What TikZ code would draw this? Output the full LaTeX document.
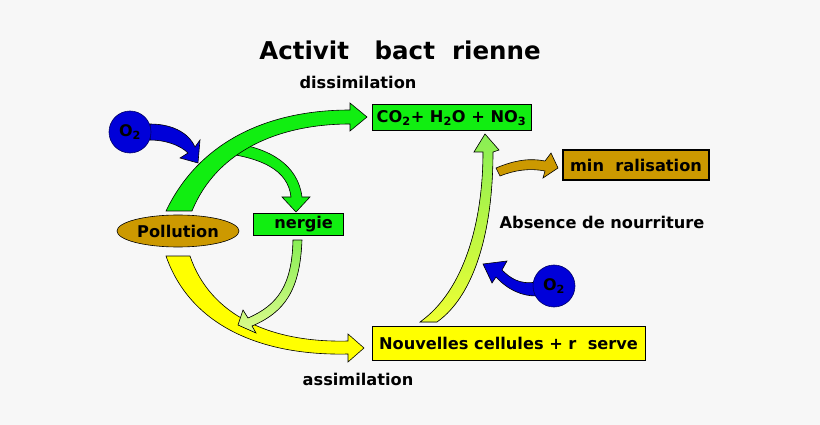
\documentclass[tikz,border=0pt]{standalone}
\usepackage{fontspec}
\setmainfont{DejaVu Sans}
\usetikzlibrary{shapes.geometric}
\begin{document}
\begin{tikzpicture}[x=1pt,y=-1pt,
  lbl/.style={font=\bfseries\fontsize{16.2}{18}\selectfont, inner sep=0pt},
  box/.style={lbl, draw=black, line width=1pt, minimum height=#1, inner xsep=2pt},
  blk/.style={draw=black, line width=0.6pt, fill=#1},
  oxy/.style={circle, draw=black!60!blue, line width=0.6pt, fill=blue!85!black, minimum size=42pt, inner sep=0pt, font=\bfseries\fontsize{16}{17}\selectfont}]
\definecolor{bg}{HTML}{F7F7F7}
\definecolor{vert}{HTML}{11EE11}
\definecolor{gold}{HTML}{CC9900}
\definecolor{jaune}{HTML}{FFFF00}
\definecolor{lvert}{HTML}{88EE55}
\definecolor{ljaune}{HTML}{EEFF33}
\fill[bg] (0,0) rectangle (820,425);
\useasboundingbox (0,0) rectangle (820,425);
% texts
\node[font=\bfseries\fontsize{24.5}{27}\selectfont] (title) at (400,50) {Activit\ \ \ bact\ \ rienne};
\node[lbl] (dis) at (358,82) {dissimilation};
\node[lbl] (ass) at (358,379) {assimilation};
\node[lbl] (abs) at (602,222) {Absence de nourriture};
% boxes
\node[box=26pt, fill=vert, minimum width=159pt] (co2) at (451.5,118) {CO$_\mathbf{2}$+ H$_\mathbf{2}$O + NO$_\mathbf{3}$};
\node[box=22pt, fill=vert, minimum width=90pt, line width=0.6pt] (ene) at (298,224) {\ \ nergie};
\node[box=30pt, fill=gold, minimum width=146pt, line width=1.4pt] (min) at (636,165) {min\ \ ralisation};
\node[box=34pt, fill=jaune, minimum width=273pt] (nou) at (508.5,343) {Nouvelles cellules + r\ \ serve};
\node[lbl, ellipse, draw=black, line width=0.6pt, fill=gold, minimum width=122pt, minimum height=32pt] (pol) at (178,231) {Pollution};
% arrows
\filldraw[blk=vert] (232,143) .. controls (270,148) and (298,165) .. (302,197) -- (310,197) -- (296,212) -- (282,197) -- (291,197) .. controls (288,170) and (262,157) .. (215,152) -- cycle;
\filldraw[blk=vert] (166,211) .. controls (200,140) and (270,110) .. (350,110) -- (350,103) -- (367,117) -- (350,131) -- (350,124) .. controls (280,124) and (217,150) .. (192,211) -- cycle;
\filldraw[blk=jaune] (166,256) .. controls (190,325) and (260,356) .. (348,354) -- (348,362) -- (364,348) -- (348,334) -- (348,341) .. controls (270,343) and (210,315) .. (190,256) -- cycle;
\filldraw[draw=black, line width=0.6pt, top color=lvert, bottom color=ljaune!60!lvert!60!white] (293,240) -- (302,240) .. controls (300,290) and (285,312) .. (252,326) -- (256,333) -- (238,325) -- (243,310) -- (248,318) .. controls (278,305) and (292,285) .. (293,240) -- cycle;
\filldraw[draw=black, line width=0.6pt, top color=lvert, bottom color=ljaune] (420,322) .. controls (465,290) and (483,220) .. (483,152) -- (474,152) -- (485,134) -- (499,150) -- (493,152) .. controls (493,230) and (475,295) .. (437,322) -- cycle;
\filldraw[blk=gold] (496,168) .. controls (515,160) and (530,158) .. (545,161) -- (551,153) -- (558,168) -- (543,178) -- (545,171) .. controls (530,168) and (515,170) .. (500,176) -- cycle;
\filldraw[blk=blue!85!black] (150,124) .. controls (175,124) and (190,135) .. (195,147) -- (200,140) -- (198,163) -- (180,158) -- (188,153) .. controls (180,145) and (165,140) .. (150,140) -- cycle;
\filldraw[blk=blue!85!black] (536,282) .. controls (520,285) and (510,278) .. (502,270) -- (507,261) -- (483,264) -- (492,283) -- (496,277) .. controls (508,290) and (522,296) .. (536,296) -- cycle;
\node[oxy] (o2a) at (130,132) {O$_\mathbf{2}$};
\node[oxy] (o2b) at (554,286) {O$_\mathbf{2}$};
\end{tikzpicture}
\end{document}
